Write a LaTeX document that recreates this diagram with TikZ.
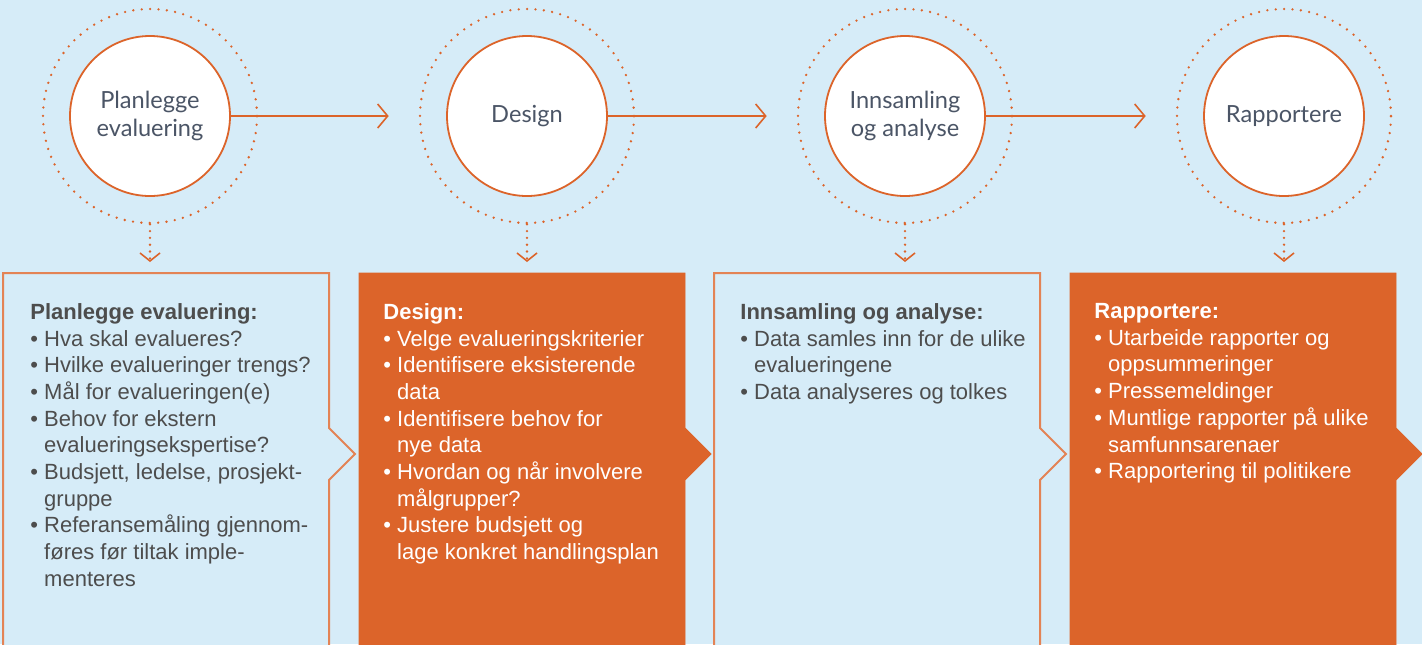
\documentclass[tikz,border=0pt]{standalone}
\usepackage{fontspec}
\setmainfont{Liberation Sans}
\newfontfamily\ringfont{Lato}
\usetikzlibrary{arrows.meta}
\definecolor{bgblue}{RGB}{214,236,248}
\definecolor{rust}{RGB}{220,100,42}
\definecolor{ringtext}{RGB}{75,85,102}
\definecolor{bodytext}{RGB}{77,77,77}
\newcommand\bul{\textbullet\ }
\newcommand\nob{\hphantom{\textbullet\ }}
\tikzset{
  stage/.style={circle,draw=rust,line width=0.9pt,fill=white,minimum size=80pt,
    inner sep=0pt,align=center,text=ringtext,font=\ringfont\fontsize{11.8}{14}\selectfont},
  ring/.style={circle,draw=rust,line width=1.3pt,dash pattern=on 0pt off 4.2pt,
    line cap=round,minimum size=107pt,inner sep=0pt},
  flow/.style={draw=rust,line width=0.8pt,shorten >=15pt,-{Straight Barb[length=5pt,width=12pt]}},
  drop/.style={draw=rust,line width=1.3pt,dash pattern=on 0pt off 3.4pt,line cap=round,
    -{Straight Barb[length=4pt,width=10pt,line width=0.8pt]}},
  lightbox/.style={draw=rust!80,line width=1pt,fill=bgblue},
  darkbox/.style={draw=rust,fill=rust},
  boxtext/.style={anchor=north west,inner sep=0pt,align=left,font=\fontsize{11}{13.35}\selectfont}
}
\begin{document}
\begin{tikzpicture}[x=0.5pt,y=-0.5pt]
  \useasboundingbox (0,0) rectangle (1422,644);
  \clip (0,0) rectangle (1422,644);
  \fill[bgblue] (0,0) rectangle (1422,644);
  \foreach \x/\f in {3/lightbox,359/darkbox,714/lightbox,1070/darkbox}
    \draw[\f] (\x,273) -- ++(326,0) -- ++(0,155) -- ++(26,26) -- ++(-26,26)
      -- (\x+326,660) -- (\x,660) -- cycle;
  \foreach \i/\x/\t in {1/150/{Planlegge\\evaluering},2/527/Design,
      3/905/{Innsamling\\og analyse},4/1284/Rapportere}{
    \node[ring] (r\i) at (\x,116) {};
    \node[stage] (c\i) at (\x,116) {\t};
    \coordinate (b\i) at (\x,262);
    \draw[drop] (r\i) -- (b\i);
  }
  \foreach \i/\j in {1/2,2/3,3/4} \draw[flow] (c\i) -- (r\j);
  \node[boxtext,text=bodytext] (p1) at (30,303) {\textbf{Planlegge evaluering:}\\
    \bul Hva skal evalueres?\\ \bul Hvilke evalueringer trengs?\\
    \bul Mål for evalueringen(e)\\ \bul Behov for ekstern\\
    \nob evalueringsekspertise?\\ \bul Budsjett, ledelse, prosjekt-\\
    \nob gruppe\\ \bul Referansemåling gjennom-\\ \nob føres før tiltak imple-\\
    \nob menteres};
  \node[boxtext,text=white] (p2) at (383,303) {\textbf{Design:}\\
    \bul Velge evalueringskriterier\\ \bul Identifisere eksisterende\\
    \nob data\\ \bul Identifisere behov for\\ \nob nye data\\
    \bul Hvordan og når involvere\\ \nob målgrupper?\\
    \bul Justere budsjett og\\ \nob lage konkret handlingsplan};
  \node[boxtext,text=bodytext] (p3) at (740,303) {\textbf{Innsamling og analyse:}\\
    \bul Data samles inn for de ulike\\ \nob evalueringene\\
    \bul Data analyseres og tolkes};
  \node[boxtext,text=white] (p4) at (1094,303) {\textbf{Rapportere:}\\
    \bul Utarbeide rapporter og\\ \nob oppsummeringer\\ \bul Pressemeldinger\\
    \bul Muntlige rapporter på ulike\\ \nob samfunnsarenaer\\
    \bul Rapportering til politikere};
\end{tikzpicture}
\end{document}
